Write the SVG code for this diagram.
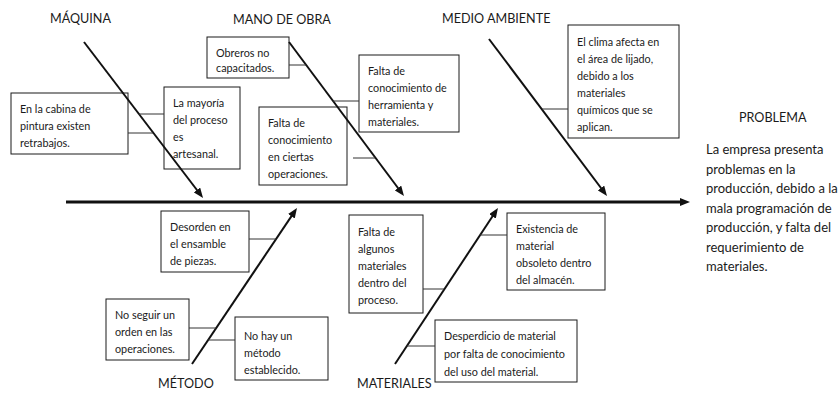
<svg xmlns="http://www.w3.org/2000/svg" width="840" height="394" viewBox="0 0 840 394">
<style>
.bg{fill:#ffffff}
.box{fill:#ffffff;stroke:#1a1a1a;stroke-width:1}
.t{font-family:Lato,"Liberation Sans",sans-serif;font-size:10.8px;fill:#1a1a1a}
.lbl{font-family:Lato,"Liberation Sans",sans-serif;font-size:12.6px;fill:#1a1a1a}
.pt{font-family:Lato,"Liberation Sans",sans-serif;font-size:13px;fill:#1a1a1a}
.bone{stroke:#111;stroke-width:2;fill:none}
.spine{stroke:#111;stroke-width:3;fill:none}
.tick{stroke:#333;stroke-width:1;fill:none}
</style>
<defs>
<marker id="ah" markerUnits="userSpaceOnUse" markerWidth="10" markerHeight="8" refX="5" refY="4" orient="auto">
<path d="M0,0 L10,4 L0,8 z" fill="#111"/>
</marker>
</defs>
<rect class="bg" x="0" y="0" width="840" height="394"/>

<g id="labels">
<text class="lbl" x="50" y="23">MÁQUINA</text>
<text class="lbl" x="233" y="24">MANO DE OBRA</text>
<text class="lbl" x="442" y="23">MEDIO AMBIENTE</text>
<text class="lbl" x="158" y="388">MÉTODO</text>
<text class="lbl" x="357" y="388">MATERIALES</text>
</g>

<g id="problema">
<text class="lbl" x="739" y="122">PROBLEMA</text>
<text class="pt" x="706" y="154">La empresa presenta</text>
<text class="pt" x="706" y="173.5">problemas en la</text>
<text class="pt" x="706" y="193">producción, debido a la</text>
<text class="pt" x="706" y="212.5">mala programación de</text>
<text class="pt" x="706" y="232">producción, y falta del</text>
<text class="pt" x="706" y="251.5">requerimiento de</text>
<text class="pt" x="706" y="271">materiales.</text>
</g>

<g id="n1">
<rect class="box" x="11" y="93" width="117" height="61"/>
<text class="t" x="20" y="113">En la cabina de</text>
<text class="t" x="20" y="130">pintura existen</text>
<text class="t" x="20" y="147">retrabajos.</text>
</g>
<g id="n2">
<rect class="box" x="164" y="87" width="76" height="82"/>
<text class="t" x="173" y="107">La mayoría</text>
<text class="t" x="173" y="124">del proceso</text>
<text class="t" x="173" y="141">es</text>
<text class="t" x="173" y="158">artesanal.</text>
</g>
<g id="n3">
<rect class="box" x="207" y="37" width="82" height="41"/>
<text class="t" x="216" y="57">Obreros no</text>
<text class="t" x="216" y="72">capacitados.</text>
</g>
<g id="n4">
<rect class="box" x="359" y="55" width="100" height="77"/>
<text class="t" x="368" y="75">Falta de</text>
<text class="t" x="368" y="92">conocimiento de</text>
<text class="t" x="368" y="109">herramienta y</text>
<text class="t" x="368" y="126">materiales.</text>
</g>
<g id="n5">
<rect class="box" x="259" y="107" width="88" height="78"/>
<text class="t" x="268" y="127">Falta de</text>
<text class="t" x="268" y="144">conocimiento</text>
<text class="t" x="268" y="161">en ciertas</text>
<text class="t" x="268" y="178">operaciones.</text>
</g>
<g id="n6">
<rect class="box" x="568" y="25" width="111" height="113"/>
<text class="t" x="577" y="46">El clima afecta en</text>
<text class="t" x="577" y="63">el área de lijado,</text>
<text class="t" x="577" y="80">debido a los</text>
<text class="t" x="577" y="97">materiales</text>
<text class="t" x="577" y="114">químicos que se</text>
<text class="t" x="577" y="131">aplican.</text>
</g>
<g id="n7">
<rect class="box" x="161" y="211" width="88" height="61"/>
<text class="t" x="170" y="231">Desorden en</text>
<text class="t" x="170" y="248">el ensamble</text>
<text class="t" x="170" y="265">de piezas.</text>
</g>
<g id="n8">
<rect class="box" x="106" y="299" width="83" height="61"/>
<text class="t" x="115" y="319">No seguir un</text>
<text class="t" x="115" y="336">orden en las</text>
<text class="t" x="115" y="353">operaciones.</text>
</g>
<g id="n9">
<rect class="box" x="235" y="317" width="93" height="63"/>
<text class="t" x="244" y="340">No hay un</text>
<text class="t" x="244" y="357">método</text>
<text class="t" x="244" y="374">establecido.</text>
</g>
<g id="n10">
<rect class="box" x="349" y="215" width="74" height="98"/>
<text class="t" x="358" y="236">Falta de</text>
<text class="t" x="358" y="253">algunos</text>
<text class="t" x="358" y="270">materiales</text>
<text class="t" x="358" y="287">dentro del</text>
<text class="t" x="358" y="304">proceso.</text>
</g>
<g id="n11">
<rect class="box" x="507" y="213" width="98" height="77"/>
<text class="t" x="516" y="233">Existencia de</text>
<text class="t" x="516" y="250">material</text>
<text class="t" x="516" y="267">obsoleto dentro</text>
<text class="t" x="516" y="284">del almacén.</text>
</g>
<g id="n12">
<rect class="box" x="435" y="320" width="142" height="62"/>
<text class="t" x="444" y="340">Desperdicio de material</text>
<text class="t" x="444" y="358">por falta de conocimiento</text>
<text class="t" x="444" y="376">del uso del material.</text>
</g>

<g id="connectors">
<line class="spine" x1="66" y1="202" x2="685" y2="202" marker-end="url(#ah)"/>
<line class="bone" x1="84" y1="42" x2="200" y2="194" marker-end="url(#ah)"/>
<line class="bone" x1="289" y1="42" x2="401" y2="192" marker-end="url(#ah)"/>
<line class="bone" x1="489" y1="39" x2="604" y2="192" marker-end="url(#ah)"/>
<line class="bone" x1="192" y1="364" x2="294.2" y2="212.1" marker-end="url(#ah)"/>
<line class="bone" x1="395" y1="364" x2="495.2" y2="212.2" marker-end="url(#ah)"/>
<line class="tick" x1="139" y1="114" x2="164" y2="114"/>
<line class="tick" x1="128" y1="133" x2="153" y2="133"/>
<line class="tick" x1="289" y1="65" x2="306" y2="65"/>
<line class="tick" x1="333" y1="101" x2="359" y2="101"/>
<line class="tick" x1="353" y1="158" x2="375" y2="158"/>
<line class="tick" x1="542" y1="109" x2="568" y2="109"/>
<line class="tick" x1="249" y1="239" x2="276" y2="239"/>
<line class="tick" x1="189" y1="328" x2="216" y2="328"/>
<line class="tick" x1="208" y1="340" x2="235" y2="340"/>
<line class="tick" x1="423" y1="289" x2="444" y2="289"/>
<line class="tick" x1="480" y1="235" x2="507" y2="235"/>
<line class="tick" x1="407" y1="346" x2="435" y2="346"/>
</g>
</svg>
